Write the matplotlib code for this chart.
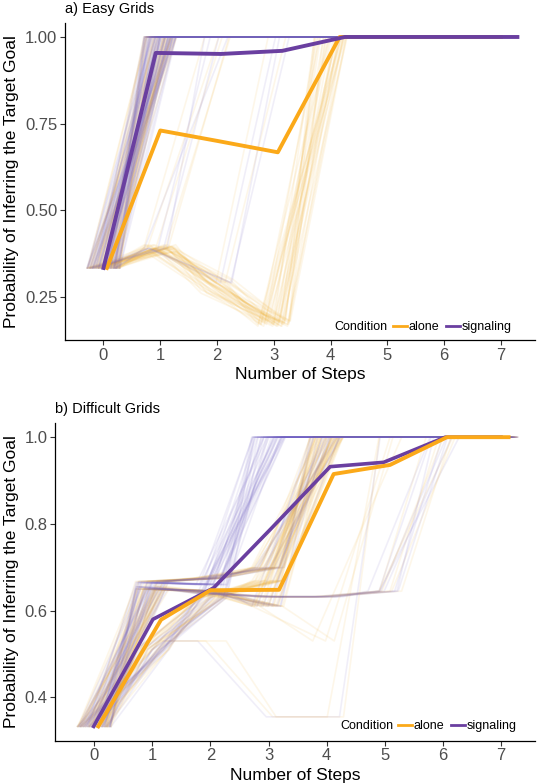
# Target-goal inference over steps, easy vs difficult grids

import numpy as np
import matplotlib
matplotlib.use("Agg")
import matplotlib.pyplot as plt
from matplotlib.lines import Line2D

plt.rcParams['font.family'] = ['Liberation Sans', 'DejaVu Sans']

# ---- data ----
steps = [0, 1, 2, 3, 4, 5, 6, 7]

# individual trajectories, easy grids
easy_fast = [0.333, 1.0, 1.0, 1.0, 1.0, 1.0, 1.0, 1.0]
easy_dip1 = [0.333, 0.39, 0.27, 0.17, 1.0, 1.0, 1.0, 1.0]
easy_dip2 = [0.333, 0.40, 0.30, 0.18, 1.0, 1.0, 1.0, 1.0]
easy_dip3 = [0.333, 0.38, 0.26, 0.165, 1.0, 1.0, 1.0, 1.0]
easy_dip4 = [0.333, 0.395, 0.29, 0.175, 1.0, 1.0, 1.0, 1.0]
easy_step2 = [0.333, 0.39, 1.0, 1.0, 1.0, 1.0, 1.0, 1.0]
easy_step3 = [0.333, 0.39, 0.29, 1.0, 1.0, 1.0, 1.0, 1.0]

easy_alone_counts = [44, 10, 8, 8, 8, 5, 2]
easy_signal_counts = [72, 0, 0, 0, 0, 4, 3]

# individual trajectories, difficult grids
diff_high = [0.333, 0.667, 0.675, 0.70, 1.0, 1.0, 1.0, 1.0]
diff_mid = [0.333, 0.65, 0.645, 0.61, 1.0, 1.0, 1.0, 1.0]
diff_flat = [0.333, 0.655, 0.64, 0.632, 0.632, 0.645, 1.0, 1.0]
diff_low = [0.333, 0.51, 0.63, 0.67, 1.0, 1.0, 1.0, 1.0]
diff_low_fast = [0.333, 0.51, 0.63, 1.0, 1.0, 1.0, 1.0, 1.0]
diff_early = [0.333, 0.665, 0.66, 1.0, 1.0, 1.0, 1.0, 1.0]
diff_drop = [0.333, 0.53, 0.53, 0.355, 0.355, 1.0, 1.0, 1.0]
diff_slip = [0.333, 0.65, 0.64, 0.61, 0.53, 1.0, 1.0, 1.0]

diff_alone_counts = [20, 16, 6, 24, 0, 0, 2, 3]
diff_signal_counts = [10, 8, 8, 0, 20, 16, 1, 0]

# horizontal jitter of the individual trajectories
jitter_offsets = [0.12, -0.25, 0.03, 0.28, -0.08, -0.19, 0.21, -0.02, 0.15, -0.29,
                  0.07, 0.24, -0.13, -0.05, 0.18, -0.22, 0.01, 0.27, -0.16, 0.09,
                  -0.27, 0.20, -0.10, 0.05, 0.26, -0.20, 0.13, -0.04, 0.23, -0.15,
                  0.00, 0.17, -0.24, 0.10, -0.07, 0.29, -0.12, 0.06, -0.18, 0.22,
                  -0.01, 0.14, -0.28, 0.08, -0.09, 0.19, -0.23]

# mean curves
easy_alone_x = [0.06, 1.0, 2.0, 3.07, 4.16, 5, 6, 7]
easy_alone_y = [0.333, 0.73, 0.70, 0.667, 1.0, 1.0, 1.0, 1.0]
easy_signal_x = [0.0, 0.92, 2.07, 3.15, 4.25, 5, 6, 7.29]
easy_signal_y = [0.333, 0.954, 0.951, 0.96, 1.0, 1.0, 1.0, 1.0]

diff_alone_x = [0.07, 1.15, 2.0, 3.18, 4.12, 5.09, 6.07, 7.13]
diff_alone_y = [0.333, 0.579, 0.647, 0.648, 0.915, 0.936, 1.0, 1.0]
diff_signal_x = [-0.01, 1.01, 2.05, 3.05, 4.06, 4.98, 6.04, 7.0]
diff_signal_y = [0.333, 0.58, 0.652, 0.79, 0.932, 0.942, 1.0, 1.0]

ORANGE = '#FBA919'
PURPLE = '#6A3FA0'
ORANGE_BG = '#F2AE2A'
PURPLE_BG = '#7262C4'


def draw_paths(ax, paths, counts, color, k):
    n = len(jitter_offsets)
    for path, count in zip(paths, counts):
        for _ in range(count):
            xs = [s + jitter_offsets[(k * 7 + j * (k % 5 + 1) * 3) % n]
                  for j, s in enumerate(steps)]
            ax.plot(xs, path, color=color, alpha=0.1, lw=1.2)
            k += 1
    return k


def style(ax, yticks, fmt, xlim, ylim):
    for s in ['top', 'right']:
        ax.spines[s].set_visible(False)
    for s in ['left', 'bottom']:
        ax.spines[s].set_color('black')
        ax.spines[s].set_linewidth(0.9)
    ax.set_xlim(*xlim)
    ax.set_ylim(*ylim)
    ax.set_xticks(steps)
    ax.set_yticks(yticks)
    ax.set_yticklabels([fmt % v for v in yticks])
    ax.tick_params(labelsize=12, labelcolor='#4D4D4D', color='#333333',
                   length=3.5, width=0.8, pad=2)


def legend(ax, cond_x, handle_x, y):
    ax.text(cond_x, y, 'Condition', transform=ax.transAxes, fontsize=9,
            ha='left', va='center')
    handles = [Line2D([], [], color=ORANGE, lw=2), Line2D([], [], color=PURPLE, lw=2)]
    ax.legend(handles, ['alone', 'signaling'], loc='center left',
              bbox_to_anchor=(handle_x, y), ncol=2, frameon=False, fontsize=9,
              handlelength=1.1, handletextpad=0.15, columnspacing=0.55,
              borderpad=0, borderaxespad=0)


fig = plt.figure(figsize=(5.37, 7.84), dpi=100)
W, H = 537.0, 784.0

# ---- a) easy grids ----
ax1 = fig.add_axes([65 / W, 1 - 340 / H, 470 / W, 316.7 / H])
easy_paths = [easy_fast, easy_dip1, easy_dip2, easy_dip3, easy_dip4, easy_step2, easy_step3]
k = draw_paths(ax1, easy_paths, easy_alone_counts, ORANGE_BG, 0)
draw_paths(ax1, easy_paths, easy_signal_counts, PURPLE_BG, k)
ax1.plot(easy_alone_x, easy_alone_y, color=ORANGE, lw=2.8, zorder=5)
ax1.plot(easy_signal_x, easy_signal_y, color=PURPLE, lw=2.8, zorder=6)
style(ax1, [0.25, 0.50, 0.75, 1.00], '%.2f', (-0.678, 7.6), (0.125, 1.0395))
legend(ax1, (334 - 65) / 470, (393 - 65) / 470, 0.041)
ax1.text(0.5, -34.5 / 316.7, 'Number of Steps', transform=ax1.transAxes,
         fontsize=12.5, ha='center', va='center')
ax1.text((12 - 65) / 470, 0.5, 'Probability of Inferring the Target Goal',
         transform=ax1.transAxes, fontsize=12.5, rotation=90, ha='center', va='center')
fig.text(65 / W, 1 - 9.5 / H, 'a) Easy Grids', fontsize=10.5, ha='left', va='center')

# ---- b) difficult grids ----
ax2 = fig.add_axes([55.3 / W, 1 - 740.7 / H, 479.7 / W, 317.4 / H])
diff_paths = [diff_high, diff_mid, diff_flat, diff_low, diff_low_fast, diff_early, diff_drop, diff_slip]
k = draw_paths(ax2, diff_paths, diff_alone_counts, ORANGE_BG, 0)
draw_paths(ax2, diff_paths, diff_signal_counts, PURPLE_BG, k)
ax2.plot(diff_signal_x, diff_signal_y, color=PURPLE, lw=2.6, zorder=5)
ax2.plot(diff_alone_x, diff_alone_y, color=ORANGE, lw=2.8, zorder=6)
style(ax2, [0.4, 0.6, 0.8, 1.0], '%.1f', (-0.67, 7.585), (0.3, 1.032))
legend(ax2, (340 - 55.3) / 479.7, (398 - 55.3) / 479.7, 0.046)
ax2.text(0.5, -34.5 / 317.4, 'Number of Steps', transform=ax2.transAxes,
         fontsize=12.5, ha='center', va='center')
ax2.text((12 - 55.3) / 479.7, 0.5, 'Probability of Inferring the Target Goal',
         transform=ax2.transAxes, fontsize=12.5, rotation=90, ha='center', va='center')
fig.text(55 / W, 1 - 409 / H, 'b) Difficult Grids', fontsize=10.5, ha='left', va='center')

fig.savefig('out.png', dpi=100)
